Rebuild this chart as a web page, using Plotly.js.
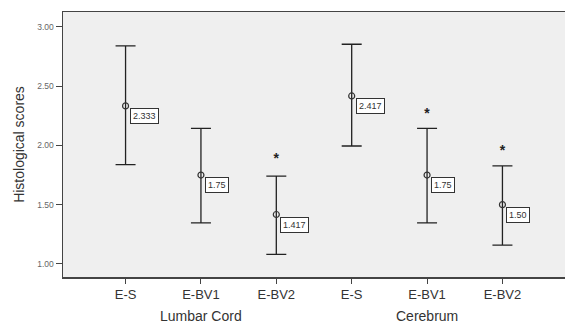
<!DOCTYPE html>
<html><head><meta charset="utf-8">
<script src="https://cdn.plot.ly/plotly-3.0.1.min.js"></script>
<style>body{margin:0;padding:0;background:#fff}#c{width:565px;height:326px}</style>
</head><body><div id="c"></div>
<script>
const categories = ["E-S","E-BV1","E-BV2","E-S","E-BV1","E-BV2"];
const groups = ["Lumbar Cord","Cerebrum"];
const groupCenters = [1, 4];
const means = [2.333, 1.75, 1.417, 2.417, 1.75, 1.50];
const meanLabels = ["2.333","1.75","1.417","2.417","1.75","1.50"];
const upper = [2.84, 2.144, 1.741, 2.853, 2.144, 1.828];
const lower = [1.837, 1.347, 1.080, 1.995, 1.347, 1.158];
const stars = [null, null, 1.88, null, 2.258, 1.947];
const yTicks = [1.0, 1.5, 2.0, 2.5, 3.0];

const xs = categories.map((c,i)=>i);
const traces = [
  {x: xs, y: means, type:'scatter', mode:'markers',
   marker:{symbol:'circle-open', size:6, color:'#333', line:{width:1.2}},
   error_y:{type:'data', symmetric:false,
     array: upper.map((u,i)=>u-means[i]),
     arrayminus: lower.map((l,i)=>means[i]-l),
     color:'#222', thickness:1.3, width:10},
   hoverinfo:'none'},
  {x: xs, y: stars, type:'scatter', mode:'text', text: stars.map(s=>s==null?'':'<b>*</b>'),
   textfont:{family:'Liberation Sans, Arial', size:14, color:'#222'}, hoverinfo:'none'}
];
const annotations = means.map((m,i)=>({x:i, y:m, text:meanLabels[i], showarrow:false,
  xanchor:'left', yanchor:'middle', xshift:4, yshift:-10,
  font:{family:'Liberation Sans, Arial', size:9, color:'#333'},
  bordercolor:'#333', borderwidth:1, borderpad:2, bgcolor:'#fff'}));
groups.forEach((g,i)=>annotations.push({x:groupCenters[i], y:0, yref:'paper', yshift:-39,
  text:g, showarrow:false, yanchor:'middle',
  font:{family:'Liberation Sans, Arial', size:14, color:'#333'}}));

const layout = {
  width:565, height:326, margin:{l:63, r:0, t:12, b:49},
  paper_bgcolor:'#fff', plot_bgcolor:'#efefef', showlegend:false,
  xaxis:{range:[-0.83,5.83], tickvals:xs, ticktext:categories, showgrid:false, zeroline:false,
    showline:true, linecolor:'#444', linewidth:1.5, mirror:true,
    ticks:'outside', ticklen:5, tickcolor:'#444',
    tickfont:{family:'Liberation Sans, Arial', size:13, color:'#333'}},
  yaxis:{range:[0.89,3.125], tickvals:yTicks, tickformat:'.2f', showgrid:false, zeroline:false,
    showline:true, linecolor:'#444', linewidth:1.5,
    ticks:'outside', ticklen:6, tickcolor:'#444',
    tickfont:{family:'Liberation Sans, Arial', size:8.5, color:'#666'},
    title:{text:'Histological scores', standoff:9, font:{family:'Liberation Sans, Arial', size:14, color:'#333'}}},
  annotations: annotations
};
Plotly.newPlot('c', traces, layout, {displayModeBar:false, staticPlot:true});
</script></body></html>
